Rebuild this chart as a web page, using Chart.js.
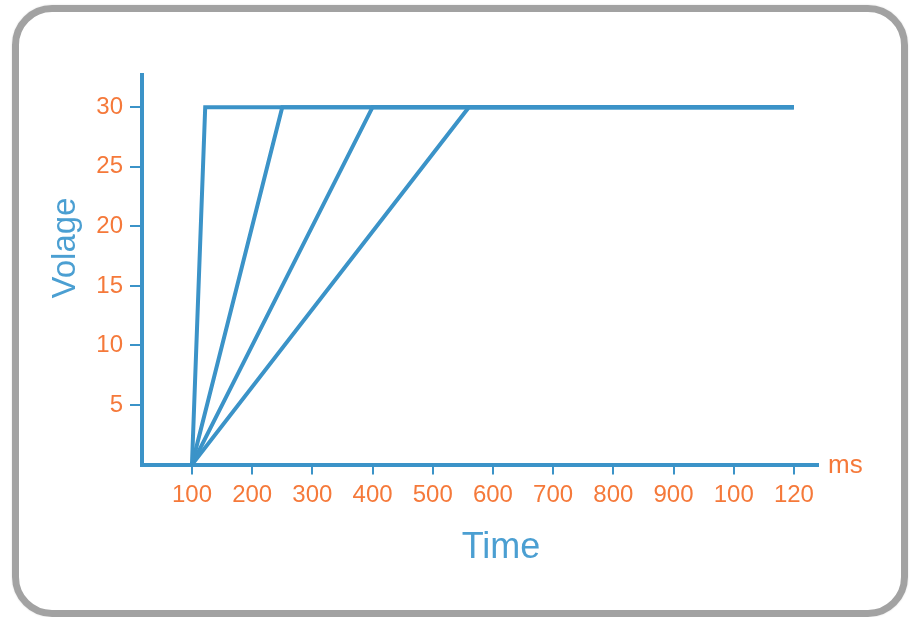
<!DOCTYPE html>
<html>
<head>
<meta charset="utf-8">
<script src="https://cdn.jsdelivr.net/npm/chart.js@4/dist/chart.umd.min.js"></script>
<style>
  html, body { margin: 0; padding: 0; background: #ffffff; }
  #wrap { position: relative; width: 910px; height: 617px; overflow: hidden; }
  #c { position: absolute; left: 0; top: 0; }
  #frame {
    position: absolute; left: 12px; top: 5px; width: 896px; height: 612px;
    box-sizing: border-box; border: 7px solid #a2a2a2; border-radius: 40px;
    pointer-events: none; box-shadow: 0 0 2px rgba(0,0,0,0.15);
  }
</style>
</head>
<body>
<div id="wrap">
  <canvas id="c" width="910" height="617"></canvas>
  <div id="frame"></div>
</div>
<script>
// ---- data ----
const startTime = 100;            // ms, all ramps start here at 0 V
const startVoltage = 0;
const rampEndTimes = [122, 250, 400, 560];   // ms where each ramp reaches 30 V
const plateauVoltage = 30;
const endTime = 1100;             // ms, end of the plateau
const xTickValues = [100, 200, 300, 400, 500, 600, 700, 800, 900, 1000, 1100];
const xTickLabels = ['100', '200', '300', '400', '500', '600', '700', '800', '900', '100', '120'];
const yTickValues = [5, 10, 15, 20, 25, 30];
const xTitle = 'Time';
const yTitle = 'Volage';
const xUnit = 'ms';

const BLUE = '#3b93c8';
const TITLE_BLUE = '#4b9fd2';
const ORANGE = '#f5793a';
const TICK_FONT = '"Liberation Sans Narrow", "Liberation Sans", sans-serif';

const datasets = rampEndTimes.map((t, i) => ({
  label: 'Ramp ' + (i + 1),
  data: [
    { x: startTime, y: startVoltage },
    { x: t, y: plateauVoltage },
    { x: endTime, y: plateauVoltage }
  ],
  borderColor: BLUE,
  borderWidth: 4,
  pointRadius: 0,
  fill: false,
  tension: 0
}));

const textPlugin = {
  id: 'textPlugin',
  afterDraw(chart) {
    const ctx = chart.ctx;
    const xs = chart.scales.x, ys = chart.scales.y;
    ctx.save();
    ctx.fillStyle = ORANGE;
    ctx.font = '26px ' + TICK_FONT;
    ctx.textAlign = 'left';
    ctx.textBaseline = 'middle';
    ctx.fillText(xUnit, xs.right + 10, ys.bottom + 1);
    ctx.fillStyle = TITLE_BLUE;
    ctx.font = '36px "Liberation Sans", sans-serif';
    ctx.textAlign = 'center';
    ctx.textBaseline = 'alphabetic';
    ctx.fillText(xTitle, 501, 558);
    ctx.font = '33px "Liberation Sans", sans-serif';
    ctx.translate(75, 248);
    ctx.rotate(-Math.PI / 2);
    ctx.fillText(yTitle, 0, 0);
    ctx.restore();
  }
};

new Chart(document.getElementById('c'), {
  type: 'line',
  data: { datasets },
  plugins: [textPlugin],
  options: {
    responsive: false,
    animation: false,
    layout: { padding: { top: 75, right: 92, bottom: 0, left: 0 } },
    plugins: { legend: { display: false }, tooltip: { enabled: false } },
    scales: {
      x: {
        type: 'linear',
        min: 17,
        max: 1140,
        afterBuildTicks: (s) => { s.ticks = xTickValues.map(v => ({ value: v })); },
        afterFit: (s) => { s.height = 152.4; },
        ticks: {
          color: ORANGE,
          font: { family: TICK_FONT, size: 24 },
          padding: 6,
          maxRotation: 0,
          autoSkip: false,
          callback: (v) => { const i = xTickValues.indexOf(v); return i >= 0 ? xTickLabels[i] : ''; }
        },
        grid: { display: true, drawOnChartArea: false, drawTicks: true, tickLength: 10, color: BLUE, lineWidth: 2 },
        border: { display: true, color: BLUE, width: 4 },
        title: { display: false }
      },
      y: {
        type: 'linear',
        min: 0,
        max: 32.7,
        afterBuildTicks: (s) => { s.ticks = yTickValues.map(v => ({ value: v })); },
        afterFit: (s) => { s.width = 142; },
        ticks: {
          color: ORANGE,
          font: { family: TICK_FONT, size: 24 },
          padding: 7,
          autoSkip: false
        },
        grid: { display: true, drawOnChartArea: false, drawTicks: true, tickLength: 12, color: BLUE, lineWidth: 2 },
        border: { display: true, color: BLUE, width: 4 },
        title: { display: false }
      }
    }
  }
});
</script>
</body>
</html>
